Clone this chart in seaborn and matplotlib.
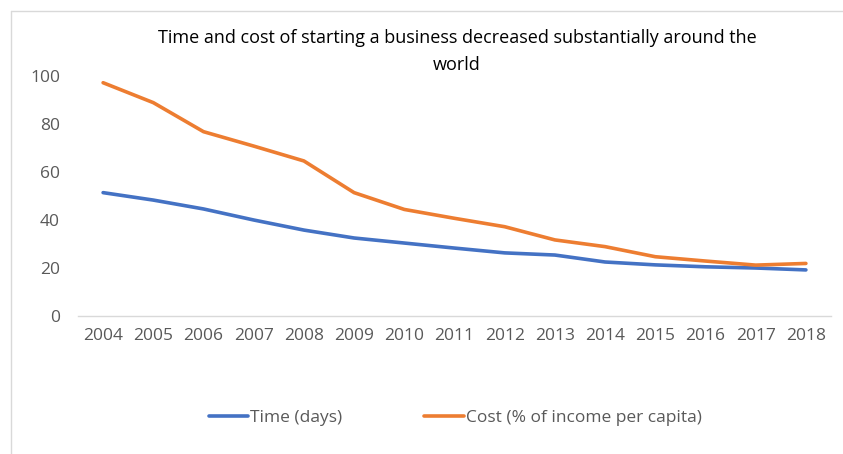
import matplotlib.pyplot as plt
import seaborn as sns
import pandas as pd
from matplotlib.lines import Line2D

# Data
years = [str(y) for y in range(2004, 2019)]
time_days = [51.4, 48.3, 44.6, 40.0, 35.8, 32.5, 30.4, 28.3, 26.3, 25.4, 22.5, 21.3, 20.5, 20.0, 19.2]
cost_pct = [97.2, 88.9, 76.8, 70.8, 64.6, 51.4, 44.4, 40.7, 37.2, 31.7, 28.9, 24.7, 22.9, 21.2, 21.9]

series_names = ["Time (days)", "Cost (% of income per capita)"]
colors = ["#4472C4", "#ED7D31"]

df = pd.DataFrame({"year": years * 2,
                   "value": time_days + cost_pct,
                   "series": [series_names[0]] * len(years) + [series_names[1]] * len(years)})

sns.set_style("white")
plt.rcParams["font.family"] = ["Open Sans", "DejaVu Sans"]

fig = plt.figure(figsize=(8.43, 4.54), dpi=100)
ax = fig.add_axes([78 / 843, 1 - 316 / 454, (831 - 78) / 843, (316 - 76) / 454])

sns.lineplot(data=df, x="year", y="value", hue="series", palette=colors,
             linewidth=2.6, ax=ax, legend=False, sort=False)

ax.set_ylim(0, 100)
ax.set_xlim(-0.5, len(years) - 0.5)
ax.set_yticks([0, 20, 40, 60, 80, 100])
ax.tick_params(axis="both", length=0, labelsize=12.5, colors="#595959")
ax.tick_params(axis="x", pad=9)
ax.tick_params(axis="y", pad=13)
ax.set_xlabel("")
ax.set_ylabel("")
for s in ["top", "right", "left"]:
    ax.spines[s].set_visible(False)
ax.spines["bottom"].set_color("#d9d9d9")
ax.spines["bottom"].set_linewidth(1)

fig.text(457 / 843, 1 - 38 / 454, "Time and cost of starting a business decreased substantially around the",
         ha="center", va="center", fontsize=13, color="black")
fig.text(457 / 843, 1 - 65 / 454, "world", ha="center", va="center", fontsize=13, color="black")

handles = [Line2D([0], [0], color=c, lw=2.6) for c in colors]
fig.legend(handles, series_names, loc="center", bbox_to_anchor=(455 / 843, 1 - 418 / 454),
           ncol=2, frameon=False, fontsize=12.5, handlelength=2.3, handletextpad=0.1,
           columnspacing=4.7, labelcolor="#595959")

# chart frame lines (top and left)
fig.add_artist(Line2D([11 / 843, 1], [1 - 11 / 454, 1 - 11 / 454], color="#d9d9d9", lw=1))
fig.add_artist(Line2D([11 / 843, 11 / 843], [0, 1 - 11 / 454], color="#d9d9d9", lw=1))

fig.savefig("out.png", dpi=100)
